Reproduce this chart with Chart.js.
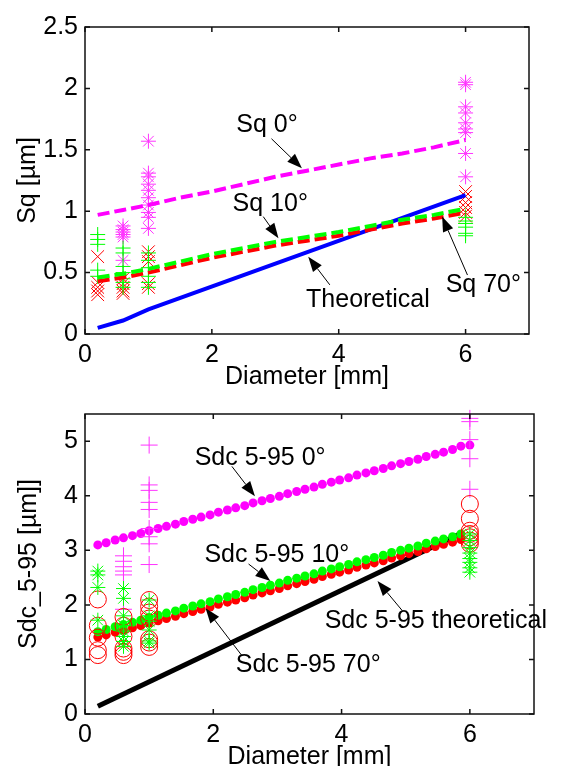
<!DOCTYPE html>
<html>
<head>
<meta charset="utf-8">
<script src="https://cdn.jsdelivr.net/npm/chart.js@4.4.0/dist/chart.umd.min.js"></script>
<style>
  html, body { margin: 0; padding: 0; background: #fff; overflow: hidden; }
  #wrap { position: relative; width: 564px; height: 766px; }
  canvas { position: absolute; left: 0; }
</style>
</head>
<body>
<div id="wrap">
  <canvas id="sqChart" width="564" height="392" style="top:0"></canvas>
  <canvas id="sdcChart" width="564" height="380" style="top:392px"></canvas>
</div>
<script>
// ---- tick labels
const xTicks = [0, 2, 4, 6];
const sqTicks = [0, 0.5, 1, 1.5, 2, 2.5];
const sdcTicks = [0, 1, 2, 3, 4, 5];

// ---- Sq (top) fitted lines
const sqLineX = [0.2, 0.6, 1, 1.5, 2, 2.5, 3, 3.5, 4, 4.5, 5, 5.5, 6];
const sq0Line = [0.97, 1.01, 1.05, 1.11, 1.16, 1.22, 1.28, 1.33, 1.38, 1.43, 1.47, 1.52, 1.58];
const sq10Line = [0.46, 0.49, 0.53, 0.59, 0.65, 0.70, 0.75, 0.79, 0.83, 0.88, 0.93, 0.97, 1.02];
const sq70Line = [0.43, 0.46, 0.50, 0.56, 0.62, 0.67, 0.72, 0.76, 0.80, 0.85, 0.90, 0.94, 0.99];
const sqTheoX = [0.2, 0.6, 1, 6];
const sqTheo = [0.05, 0.11, 0.20, 1.13];

// ---- Sq measured points (one column per diameter)
const sq0Cols = [0.6, 1, 6];
const sq0Vals = [
  [0.88, 0.85, 0.83, 0.81, 0.79, 0.60],
  [1.57, 1.31, 1.28, 1.22, 1.17, 1.11, 1.05, 0.99, 0.95, 0.86],
  [2.05, 2.03, 1.85, 1.80, 1.72, 1.67, 1.64, 1.47, 1.28]
];
const sq10Cols = [0.2, 0.6, 1, 6];
const sq10Vals = [
  [0.81, 0.77, 0.73, 0.52, 0.47],
  [0.70, 0.66, 0.55, 0.50, 0.45, 0.42, 0.38],
  [0.66, 0.60, 0.54, 0.47, 0.42, 0.38],
  [0.95, 0.92, 0.90, 0.87, 0.82, 0.80]
];
const sq70Cols = [0.2, 0.6, 1, 6];
const sq70Vals = [
  [0.63, 0.42, 0.38, 0.35, 0.32],
  [0.45, 0.41, 0.38, 0.35, 0.33],
  [0.67, 0.63, 0.59, 0.41, 0.38],
  [1.16, 1.12, 1.07, 1.03, 0.99, 0.96]
];

// ---- Sdc 5-95 (bottom) fitted dots
const sdcX = [0.2, 0.33, 0.47, 0.6, 0.74, 0.87, 1.0, 1.14, 1.27, 1.41, 1.54, 1.68, 1.81, 1.95, 2.08,
  2.22, 2.35, 2.49, 2.62, 2.76, 2.89, 3.03, 3.16, 3.3, 3.43, 3.57, 3.7, 3.84, 3.97, 4.11, 4.24,
  4.38, 4.51, 4.65, 4.78, 4.92, 5.05, 5.19, 5.32, 5.46, 5.59, 5.73, 5.86, 6.0];
const sdc0Line = [3.10, 3.14, 3.19, 3.23, 3.27, 3.31, 3.36, 3.40, 3.44, 3.48, 3.53, 3.57, 3.61, 3.65, 3.70,
  3.74, 3.78, 3.82, 3.87, 3.91, 3.95, 3.99, 4.04, 4.08, 4.12, 4.16, 4.21, 4.25, 4.29, 4.33, 4.38,
  4.42, 4.46, 4.50, 4.55, 4.59, 4.63, 4.67, 4.72, 4.76, 4.80, 4.85, 4.91, 4.93];
const sdc10Line = [1.51, 1.55, 1.60, 1.64, 1.68, 1.72, 1.77, 1.81, 1.85, 1.89, 1.94, 1.98, 2.02, 2.06, 2.11,
  2.15, 2.19, 2.23, 2.28, 2.32, 2.36, 2.40, 2.45, 2.49, 2.53, 2.57, 2.62, 2.66, 2.70, 2.74, 2.79,
  2.83, 2.87, 2.91, 2.96, 3.00, 3.04, 3.08, 3.13, 3.17, 3.21, 3.25, 3.30];
const sdc70Line = [1.41, 1.45, 1.50, 1.54, 1.58, 1.62, 1.67, 1.71, 1.75, 1.79, 1.84, 1.88, 1.92, 1.96, 2.01,
  2.05, 2.09, 2.13, 2.18, 2.22, 2.26, 2.30, 2.35, 2.39, 2.43, 2.47, 2.52, 2.56, 2.60, 2.64, 2.69,
  2.73, 2.77, 2.81, 2.86, 2.90, 2.94, 2.98, 3.03, 3.07, 3.11, 3.15, 3.20];
const sdcTheoX = [0.2, 5.9];
const sdcTheo = [0.14, 3.33];

// ---- Sdc measured points
const sdc0Cols = [0.6, 1, 6];
const sdc0Vals = [
  [2.90, 2.80, 2.70, 2.62, 2.55, 1.92],
  [4.93, 4.20, 4.10, 3.88, 3.75, 3.40, 3.25, 3.12, 2.74],
  [5.42, 5.36, 5.03, 4.68, 4.12]
];
const sdc10Cols = [0.2, 0.6, 1, 6];
const sdc10Vals = [
  [2.62, 2.55, 2.32, 1.72],
  [2.30, 2.12, 1.80, 1.62, 1.52, 1.42, 1.33, 1.24],
  [2.09, 1.80, 1.70, 1.54, 1.34, 1.30],
  [3.30, 3.18, 3.05, 2.95, 2.85, 2.78, 2.68, 2.60]
];
const sdc70Cols = [0.2, 0.6, 1, 6];
const sdc70Vals = [
  [2.10, 1.62, 1.40, 1.17, 1.08],
  [1.78, 1.62, 1.42, 1.20, 1.14, 1.08],
  [2.09, 1.97, 1.86, 1.75, 1.37, 1.31, 1.23],
  [3.85, 3.58, 3.36, 3.30, 3.24, 3.18, 3.12]
];

const FONT = '"Liberation Sans", Arial, Helvetica, sans-serif';
Chart.defaults.font.family = FONT;
Chart.defaults.font.size = 25;
Chart.defaults.color = '#000';

function pairs(xs, ys) {
  return ys.map((y, i) => ({ x: xs[i], y: y }));
}
function columns(xs, vals) {
  const out = [];
  xs.forEach((x, i) => vals[i].forEach(y => out.push({ x: x, y: y })));
  return out;
}

// box round the plot, inward ticks on all four sides, and the arrow labels
const plotFrame = {
  id: 'plotFrame',
  afterDatasetsDraw(chart, args, opts) {
    const { ctx, chartArea: a } = chart;
    const sx = chart.scales.x, sy = chart.scales.y;
    ctx.save();
    ctx.strokeStyle = '#111';
    ctx.lineWidth = 1.5;
    ctx.strokeRect(a.left, a.top, a.right - a.left, a.bottom - a.top);
    ctx.beginPath();
    sx.ticks.forEach(t => {
      const px = sx.getPixelForValue(t.value);
      ctx.moveTo(px, a.bottom); ctx.lineTo(px, a.bottom - 5);
      ctx.moveTo(px, a.top); ctx.lineTo(px, a.top + 5);
    });
    sy.ticks.forEach(t => {
      const py = sy.getPixelForValue(t.value);
      ctx.moveTo(a.left, py); ctx.lineTo(a.left + 5, py);
      ctx.moveTo(a.right, py); ctx.lineTo(a.right - 5, py);
    });
    ctx.stroke();

    ctx.fillStyle = '#000';
    ctx.strokeStyle = '#000';
    ctx.font = '25px ' + FONT;
    ctx.textAlign = 'center';
    ctx.textBaseline = 'middle';
    (opts.notes || []).forEach(n => {
      ctx.fillText(n.text, sx.getPixelForValue(n.at[0]), sy.getPixelForValue(n.at[1]));
      const x0 = sx.getPixelForValue(n.from[0]), y0 = sy.getPixelForValue(n.from[1]);
      const x1 = sx.getPixelForValue(n.to[0]), y1 = sy.getPixelForValue(n.to[1]);
      const ang = Math.atan2(y1 - y0, x1 - x0);
      const L = 15, W = 5.5;
      const bx = x1 - L * Math.cos(ang), by = y1 - L * Math.sin(ang);
      ctx.lineWidth = 1;
      ctx.beginPath(); ctx.moveTo(x0, y0); ctx.lineTo(bx, by); ctx.stroke();
      ctx.beginPath();
      ctx.moveTo(x1, y1);
      ctx.lineTo(bx - W * Math.sin(ang), by + W * Math.cos(ang));
      ctx.lineTo(bx + W * Math.sin(ang), by - W * Math.cos(ang));
      ctx.closePath();
      ctx.fill();
    });
    ctx.restore();
  }
};

function scales(yTicks, yMax, yTitle, yTitlePad, xHeight) {
  return {
    x: {
      type: 'linear', min: 0, max: 7,
      grid: { display: false, drawTicks: false },
      border: { display: false },
      ticks: { padding: 6, callback: v => String(v) },
      afterBuildTicks: s => { s.ticks = xTicks.map(v => ({ value: v })); },
      afterFit: s => { s.height = xHeight; },
      title: { display: true, text: 'Diameter [mm]', padding: 0 }
    },
    y: {
      type: 'linear', min: 0, max: yMax,
      grid: { display: false, drawTicks: false },
      border: { display: false },
      ticks: { padding: 7, callback: v => String(v) },
      afterBuildTicks: s => { s.ticks = yTicks.map(v => ({ value: v })); },
      afterFit: s => { s.width = 85; },
      title: { display: true, text: yTitle, padding: { top: yTitlePad, bottom: 0 } }
    }
  };
}

function lineSet(xs, ys, color, width, dash) {
  return { data: pairs(xs, ys), showLine: true, borderColor: color, borderWidth: width,
    borderDash: dash || [], pointRadius: 0, fill: false };
}
function markSet(data, color, style, r) {
  return { data: data, showLine: false, pointStyle: style, pointRadius: r,
    pointBorderColor: color, pointBorderWidth: 1, borderColor: color,
    pointBackgroundColor: 'rgba(0,0,0,0)', clip: false };
}
function dotSet(xs, ys, color) {
  return { data: pairs(xs, ys), showLine: false, pointRadius: 4.5, pointBorderWidth: 0,
    pointBackgroundColor: color, borderColor: color };
}

// ---- top chart: Sq
new Chart(document.getElementById('sqChart'), {
  type: 'scatter',
  data: {
    datasets: [
      lineSet(sqLineX, sq10Line, '#00ff00', 4, [12, 5]),
      lineSet(sqLineX, sq70Line, '#ff0000', 4, [12, 5]),
      lineSet(sqLineX, sq0Line, '#ff00ff', 4, [12, 5]),
      lineSet(sqTheoX, sqTheo, '#0000ff', 4),
      markSet(columns(sq10Cols, sq10Vals), '#00ff00', 'cross', 7.5),
      markSet(columns(sq70Cols, sq70Vals), '#ff0000', 'crossRot', 9),
      markSet(columns(sq0Cols, sq0Vals), '#ff33ff', 'star', 7.5)
    ]
  },
  options: {
    responsive: false,
    animation: false,
    devicePixelRatio: 1,
    layout: { padding: { top: 27, right: 35, left: 0, bottom: 0 } },
    plugins: {
      legend: { display: false },
      tooltip: { enabled: false },
      plotFrame: {
        notes: [
          { text: 'Sq 0°', at: [2.87, 1.70], from: [2.94, 1.59], to: [3.42, 1.35] },
          { text: 'Sq 10°', at: [2.92, 1.06], from: [2.81, 0.956], to: [3.05, 0.78] },
          { text: 'Theoretical', at: [4.46, 0.28], from: [3.86, 0.40], to: [3.52, 0.63] },
          { text: 'Sq 70°', at: [6.28, 0.40], from: [6.03, 0.48], to: [5.63, 0.956] }
        ]
      }
    },
    scales: scales(sqTicks, 2.5, 'Sq [µm]', 13, 58)
  },
  plugins: [plotFrame]
});

// ---- bottom chart: Sdc 5-95
new Chart(document.getElementById('sdcChart'), {
  type: 'scatter',
  data: {
    datasets: [
      markSet(columns(sdc10Cols, sdc10Vals), '#00ff00', 'star', 7.5),
      markSet(columns(sdc70Cols, sdc70Vals), '#ff0000', 'circle', 8.5),
      markSet(columns(sdc0Cols, sdc0Vals), '#ff33ff', 'cross', 8.5),
      dotSet(sdcX, sdc10Line, '#00ff00'),
      dotSet(sdcX, sdc70Line, '#ff0000'),
      dotSet(sdcX, sdc0Line, '#ff00ff'),
      lineSet(sdcTheoX, sdcTheo, '#000000', 5)
    ]
  },
  options: {
    responsive: false,
    animation: false,
    devicePixelRatio: 1,
    layout: { padding: { top: 5, right: 30, left: 0, bottom: 0 } },
    plugins: {
      legend: { display: false },
      tooltip: { enabled: false },
      plotFrame: {
        notes: [
          { text: 'Sdc 5-95 0°', at: [2.73, 4.70], from: [2.29, 4.54], to: [2.65, 3.99] },
          { text: 'Sdc 5-95 10°', at: [2.99, 2.92], from: [2.55, 2.75], to: [2.89, 2.44] },
          { text: 'Sdc 5-95 70°', at: [3.48, 0.90], from: [2.44, 1.08], to: [1.88, 1.94] },
          { text: 'Sdc 5-95 theoretical', at: [5.47, 1.70], from: [4.95, 1.89], to: [4.56, 2.44] }
        ]
      }
    },
    scales: scales(sdcTicks, 5.5, 'Sdc_5-95 [µm]]', 14, 58)
  },
  plugins: [plotFrame]
});
</script>
</body>
</html>
